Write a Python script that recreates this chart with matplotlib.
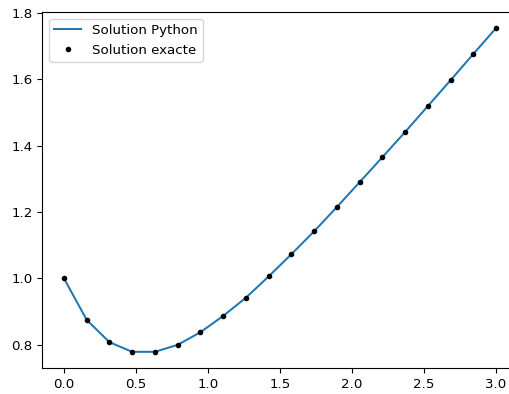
import numpy as np
from matplotlib import pyplot as plt

## Data
x = np.linspace(0, 3, 20)
y_python = [1.0, 0.875, 0.808, 0.779, 0.779, 0.800, 0.838, 0.887, 0.942, 1.006,
            1.073, 1.142, 1.215, 1.290, 1.365, 1.441, 1.519, 1.597, 1.676, 1.754]
y_exacte = [1.0, 0.875, 0.808, 0.779, 0.779, 0.800, 0.838, 0.887, 0.942, 1.006,
            1.073, 1.142, 1.215, 1.290, 1.365, 1.441, 1.519, 1.597, 1.676, 1.754]

# the reference looks like a default figure shrunk a little
plt.rcParams['font.size'] = 9.6
plt.rcParams['lines.linewidth'] = 1.45

fig = plt.figure(figsize=(5.09, 3.94), dpi=100)
# the original figure was cropped on the right, so the axes run past the edge
ax = fig.add_axes([42.4/509, 26/394, 475.2/509, 356/394])
ax.plot(x, y_python, label='Solution Python')
ax.plot(x, y_exacte, 'k.', label='Solution exacte')
ax.legend(loc='upper left')
fig.savefig('out.png', dpi=100)
